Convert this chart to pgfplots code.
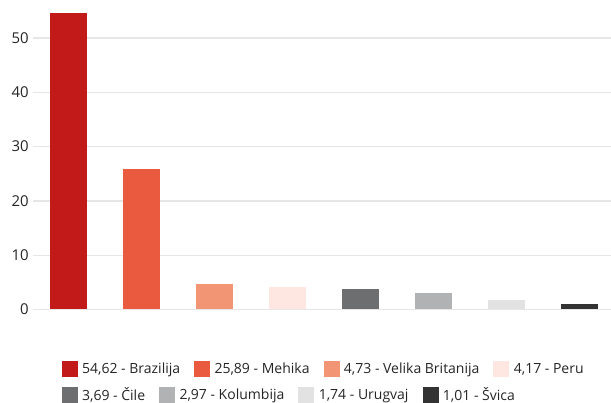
\documentclass[border=0pt]{standalone}
\usepackage{fontspec}
\setmainfont{Open Sans}
\usepackage{pgfplots}
\pgfplotsset{compat=1.18}
\definecolor{c1}{RGB}{194,26,24}
\definecolor{c2}{RGB}{233,90,62}
\definecolor{c3}{RGB}{242,149,117}
\definecolor{c4}{RGB}{253,231,224}
\definecolor{c5}{RGB}{109,110,112}
\definecolor{c6}{RGB}{177,178,180}
\definecolor{c7}{RGB}{226,226,226}
\definecolor{c8}{RGB}{51,51,51}
\definecolor{gridc}{RGB}{230,230,230}
\definecolor{txt}{RGB}{37,37,37}
\pgfplotsset{
  common/.style={
    scale only axis, width=433.5pt, height=232.125pt,
    at={(0,0)}, anchor=south west,
    xmin=-0.486, xmax=7.43, ymin=0, ymax=57,
    legend image code/.code={\fill[##1] (0pt,-6pt) rectangle (12pt,6pt);},
    legend style={draw=none, fill=none, inner sep=0pt, outer sep=0pt,
      font=\fontsize{10.5pt}{12pt}\selectfont, text=txt,
      nodes={inner sep=0pt, outer sep=0pt},
      /tikz/every odd column/.append style={column sep=3.3pt},
      /tikz/every even column/.append style={column sep=10.5pt}},
    legend columns=-1,
  },
  mybar/.style={ybar, bar width=27.75pt, bar shift=0pt, fill=#1, draw=none},
}
\begin{document}
\begin{tikzpicture}
\begin{axis}[common,
  axis line style={draw=none},
  xtick=\empty,
  ytick={0,10,20,30,40,50},
  ymajorgrids, grid style={draw=gridc, line width=0.9pt},
  major tick length=0pt,
  yticklabel style={font=\fontsize{11.2pt}{12pt}\selectfont, text=txt, inner sep=0pt, xshift=-3pt},
  /pgf/number format/assume math mode=true,
  legend style={at={(0.0497,-0.1922)}, anchor=west},
]
\addplot[mybar=c1] coordinates {(0,54.62)}; \addlegendentry{54,62 - Brazilija}
\addplot[mybar=c2] coordinates {(1,25.89)}; \addlegendentry{25,89 - Mehika}
\addplot[mybar=c3] coordinates {(2,4.73)}; \addlegendentry{4,73 - Velika Britanija}
\addplot[mybar=c4] coordinates {(3,4.17)}; \addlegendentry{4,17 - Peru}
\addplot[mybar=c5,forget plot] coordinates {(4,3.69)};
\addplot[mybar=c6,forget plot] coordinates {(5,2.97)};
\addplot[mybar=c7,forget plot] coordinates {(6,1.74)};
\addplot[mybar=c8,forget plot] coordinates {(7,1.01)};
\end{axis}
\begin{axis}[common, hide axis,
  legend style={at={(0.0497,-0.2763)}, anchor=west},
]
\addlegendimage{draw=none,fill=c5}\addlegendentry{3,69 - Čile}
\addlegendimage{draw=none,fill=c6}\addlegendentry{2,97 - Kolumbija}
\addlegendimage{draw=none,fill=c7}\addlegendentry{1,74 - Urugvaj}
\addlegendimage{draw=none,fill=c8}\addlegendentry{1,01 - Švica}
\end{axis}
\pgfresetboundingbox
\path[use as bounding box] (-24.75pt,-70.125pt) rectangle (433.5pt,232.125pt);
\end{tikzpicture}
\end{document}
